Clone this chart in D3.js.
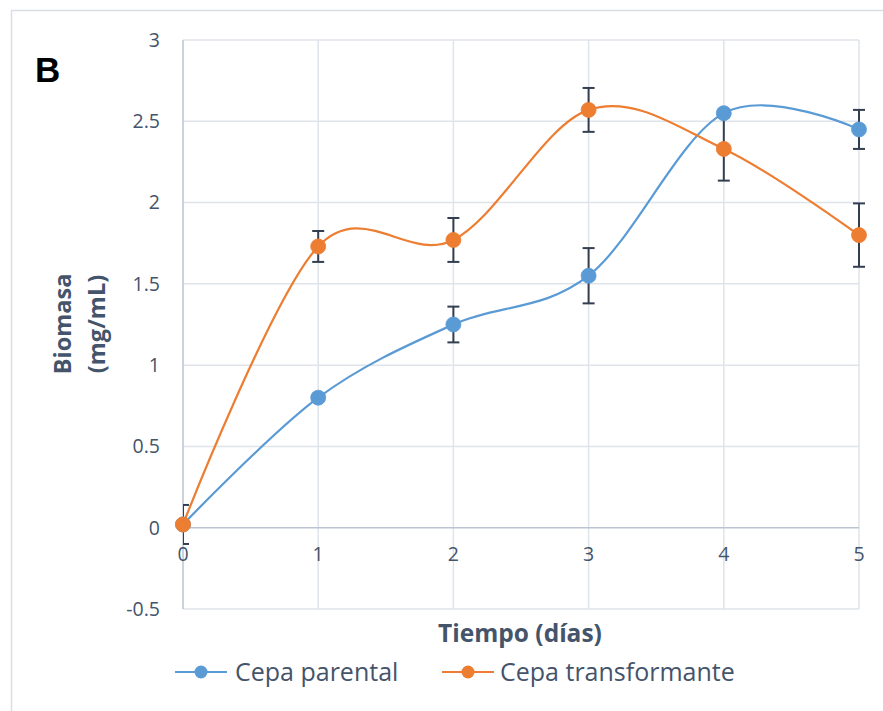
<!DOCTYPE html>
<html>
<head>
<meta charset="utf-8">
<script src="https://cdn.jsdelivr.net/npm/d3@7"></script>
<style>
  html, body { margin: 0; padding: 0; background: #fff; }
  svg { display: block; }
  text { font-family: "Open Sans", sans-serif; }
</style>
</head>
<body>
<svg id="chart" width="883" height="711"></svg>
<script>
// ---- data ----
const days = [0, 1, 2, 3, 4, 5];
const parental = [0.02, 0.80, 1.25, 1.55, 2.55, 2.45];
const parentalErr = [0, 0, 0.11, 0.17, 0, 0.12];
const transformante = [0.02, 1.73, 1.77, 2.57, 2.33, 1.80];
const transformanteErr = [0.12, 0.095, 0.135, 0.135, 0.195, 0.195];
const yTicks = [-0.5, 0, 0.5, 1, 1.5, 2, 2.5, 3];
const yTickLabels = ["-0.5", "0", "0.5", "1", "1.5", "2", "2.5", "3"];
const xTicks = [0, 1, 2, 3, 4, 5];
const seriesNames = ["Cepa parental", "Cepa transformante"];
const seriesColors = ["#5b9bd5", "#ed7d31"];
const panelLabel = "B";
const yTitle = ["Biomasa", "(mg/mL)"];
const xTitle = "Tiempo (días)";

// ---- layout ----
const svg = d3.select("#chart");
const pLeft = 183, pRight = 859, pTop = 40, pBottom = 609;
const x = d3.scaleLinear().domain([0, 5]).range([pLeft, pRight]);
const y = d3.scaleLinear().domain([-0.5, 3]).range([pBottom, pTop]);
const textColor = "#44546a";

// frame border
svg.append("rect").attr("x", 11.5).attr("y", 10.5).attr("width", 900).attr("height", 720)
  .attr("fill", "none").attr("stroke", "#d9dee6").attr("stroke-width", 1.5);

// clip
svg.append("clipPath").attr("id", "plotclip").append("rect")
  .attr("x", pLeft).attr("y", pTop - 20).attr("width", pRight - pLeft + 20).attr("height", pBottom - pTop + 40);

// gridlines horizontal
svg.append("g").selectAll("line").data(yTicks.filter(d => d !== 0)).join("line")
  .attr("x1", pLeft).attr("x2", pRight).attr("y1", d => y(d)).attr("y2", d => y(d))
  .attr("stroke", "#dfe3ea").attr("stroke-width", 1.5);
// gridlines vertical
svg.append("g").selectAll("line").data(xTicks.filter(d => d !== 0)).join("line")
  .attr("x1", d => x(d)).attr("x2", d => x(d)).attr("y1", pTop).attr("y2", pBottom)
  .attr("stroke", "#dfe3ea").attr("stroke-width", 1.5);

// axes lines
svg.append("line").attr("x1", pLeft).attr("x2", pLeft).attr("y1", pTop).attr("y2", pBottom)
  .attr("stroke", "#bcc4d2").attr("stroke-width", 1.5);
svg.append("line").attr("x1", pLeft).attr("x2", pRight).attr("y1", y(0)).attr("y2", y(0))
  .attr("stroke", "#bcc4d2").attr("stroke-width", 1.5);

// y tick labels
svg.append("g").selectAll("text").data(yTicks).join("text")
  .attr("x", 160).attr("y", d => y(d)).attr("dy", "0.35em")
  .attr("text-anchor", "end").attr("font-size", 19.5).attr("fill", textColor)
  .text((d, i) => yTickLabels[i]);
// x tick labels
svg.append("g").selectAll("text").data(xTicks).join("text")
  .attr("x", d => x(d)).attr("y", y(0) + 33)
  .attr("text-anchor", "middle").attr("font-size", 19.5).attr("fill", textColor)
  .text(d => d);

// titles
svg.append("text").attr("x", 35).attr("y", 82).attr("font-size", 35).attr("font-weight", "bold")
  .attr("fill", "#000").style("font-family", "'Liberation Sans', Arial, sans-serif").text(panelLabel);
yTitle.forEach((t, i) => {
  svg.append("text").attr("transform", `translate(${71 + i * 34},${324}) rotate(-90)`)
    .attr("text-anchor", "middle").attr("font-size", 23.5).attr("font-weight", "bold")
    .attr("fill", textColor).text(t);
});
svg.append("text").attr("x", 520).attr("y", 642).attr("text-anchor", "middle")
  .attr("font-size", 24.5).attr("font-weight", "bold").attr("fill", textColor).text(xTitle);

// series
const series = [
  { name: seriesNames[0], vals: parental, err: parentalErr, color: seriesColors[0] },
  { name: seriesNames[1], vals: transformante, err: transformanteErr, color: seriesColors[1] }
];
const line = d3.line().x((d, i) => x(days[i])).y(d => y(d)).curve(d3.curveCardinal.tension(0));
const plot = svg.append("g").attr("clip-path", "url(#plotclip)");

series.forEach(s => {
  plot.append("path").attr("d", line(s.vals)).attr("fill", "none")
    .attr("stroke", s.color).attr("stroke-width", 2.2);
});
svg.append("clipPath").attr("id", "errclip").append("rect")
  .attr("x", pLeft).attr("y", 0).attr("width", 800).attr("height", 711);
series.forEach(s => {
  const g = svg.append("g").attr("clip-path", "url(#errclip)");
  s.vals.forEach((v, i) => {
    if (!s.err[i]) return;
    const cx = x(days[i]), y1 = y(v + s.err[i]), y2 = y(v - s.err[i]);
    g.append("line").attr("x1", cx).attr("x2", cx).attr("y1", y1).attr("y2", y2)
      .attr("stroke", "#333f50").attr("stroke-width", 2);
    [y1, y2].forEach(yy => g.append("line").attr("x1", cx - 6).attr("x2", cx + 6)
      .attr("y1", yy).attr("y2", yy).attr("stroke", "#333f50").attr("stroke-width", 2));
  });
});
series.forEach(s => {
  svg.append("g").selectAll("circle").data(s.vals).join("circle")
    .attr("cx", (d, i) => x(days[i])).attr("cy", d => y(d)).attr("r", 7.5)
    .attr("fill", s.color).attr("stroke", s.color).attr("stroke-width", 0.8);
});

// legend
const legendItems = [
  { x0: 175, tx: 235 },
  { x0: 442, tx: 500 }
];
series.forEach((s, i) => {
  const L = legendItems[i], ly = 672;
  svg.append("line").attr("x1", L.x0).attr("x2", L.x0 + 52).attr("y1", ly).attr("y2", ly)
    .attr("stroke", s.color).attr("stroke-width", 2.2);
  svg.append("circle").attr("cx", L.x0 + 26).attr("cy", ly).attr("r", 6.5).attr("fill", s.color);
  svg.append("text").attr("x", L.tx).attr("y", ly).attr("dy", "0.35em")
    .attr("font-size", 25).attr("fill", textColor).text(s.name);
});
</script>
</body>
</html>
